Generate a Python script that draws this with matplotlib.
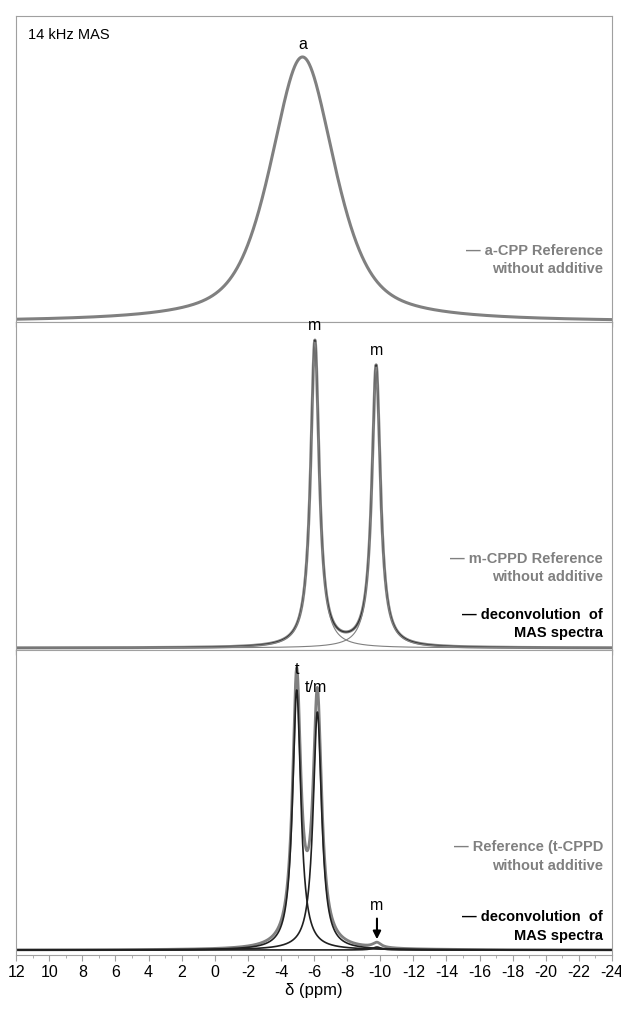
import numpy as np
import matplotlib.pyplot as plt

plt.rcParams['font.family'] = ['Liberation Sans', 'DejaVu Sans']
plt.rcParams['axes.unicode_minus'] = False

# peak parameters: centre (ppm), height, fwhm (ppm)
a_pos, a_h, a_w = [-5.3], [265], [4.6]
m_pos, m_h, m_w = [-6.05, -9.75], [306, 281], [0.62, 0.62]
t_ref_pos, t_ref_h, t_ref_w = [-4.95, -6.2, -9.8], [268, 248, 5], [0.6, 0.62, 0.6]
t_dec_pos, t_dec_h, t_dec_w = [-4.95, -6.2, -9.8], [260, 238, 3], [0.6, 0.62, 0.6]

x = np.linspace(12, -24, 3000)


def lor(c, h, w):
    return h / (1 + ((x - c) / (w / 2)) ** 2)


def voigt(c, h, w, eta=0.6):
    g = np.exp(-4 * np.log(2) * ((x - c) / w) ** 2)
    return h * (eta * lor(c, 1, w) + (1 - eta) * g)


fig, axes = plt.subplots(3, 1, figsize=(6.21, 10.30), dpi=100, sharex=True,
                         gridspec_kw={'height_ratios': [306, 328, 305], 'hspace': 0})
fig.subplots_adjust(left=0.026, right=0.9855, bottom=0.0728, top=0.9845)

gray = '#808080'
fs = 10.5

# panel a
ax = axes[0]
ax.plot(x, voigt(a_pos[0], a_h[0], a_w[0]), color=gray, lw=2.2)
ax.set_ylim(0, 306)
ax.text(0.02, 0.96, '14 kHz MAS', transform=ax.transAxes, fontsize=fs, va='top')
ax.text(a_pos[0], a_h[0] + 8, 'a', ha='center', fontsize=fs + 1)
ax.text(0.985, 0.15, '\u2014 a-CPP Reference\nwithout additive', transform=ax.transAxes,
        ha='right', va='bottom', color=gray, fontsize=fs, fontweight='bold', linespacing=1.4)

# panel m
ax = axes[1]
comps = [lor(c, h, w) for c, h, w in zip(m_pos, m_h, m_w)]
ax.plot(x, sum(comps), color=gray, lw=2.2)
ax.plot(x, sum(comps), color='#303030', lw=0.8)
for cp in comps:
    ax.plot(x, cp, color=gray, lw=0.8)
ax.set_ylim(-2, 326)
for c, h in zip(m_pos, m_h):
    ax.text(c, h + 12, 'm', ha='center', fontsize=fs + 1)
ax.text(0.985, 0.20, '\u2014 m-CPPD Reference\nwithout additive', transform=ax.transAxes,
        ha='right', va='bottom', color=gray, fontsize=fs, fontweight='bold', linespacing=1.4)
ax.text(0.985, 0.03, '\u2014 deconvolution  of\nMAS spectra', transform=ax.transAxes,
        ha='right', va='bottom', color='black', fontsize=fs, fontweight='bold', linespacing=1.4)

# panel t
ax = axes[2]
ref = sum(lor(c, h, w) for c, h, w in zip(t_ref_pos, t_ref_h, t_ref_w))
ax.plot(x, ref, color=gray, lw=2.0)
for c, h, w in zip(t_dec_pos, t_dec_h, t_dec_w):
    ax.plot(x, lor(c, h, w), color='#202020', lw=1.2)
ax.set_ylim(-5, 300)
ax.text(t_ref_pos[0], t_ref_h[0] + 8, 't', ha='center', fontsize=fs + 1)
ax.text(t_ref_pos[1] + 0.1, t_ref_h[1] + 10, 't/m', ha='center', fontsize=fs + 1)
ax.annotate('m', xy=(-9.8, 8), xytext=(-9.8, 40), ha='center', fontsize=fs + 1,
            arrowprops=dict(arrowstyle='-|>', color='black', lw=1.5))
ax.text(0.985, 0.27, '\u2014 Reference (t-CPPD\nwithout additive', transform=ax.transAxes,
        ha='right', va='bottom', color=gray, fontsize=fs, fontweight='bold', linespacing=1.4)
ax.text(0.985, 0.04, '\u2014 deconvolution  of\nMAS spectra', transform=ax.transAxes,
        ha='right', va='bottom', color='black', fontsize=fs, fontweight='bold', linespacing=1.4)

for ax in axes:
    ax.set_yticks([])
    for s in ax.spines.values():
        s.set_color('#a0a0a0')
axes[2].set_xlim(12, -24)
axes[2].set_xticks(np.arange(12, -25, -2))
axes[2].set_xticks(np.arange(12, -25, -1), minor=True)
axes[2].tick_params(axis='x', labelsize=11.5, length=4, color='#a0a0a0')
axes[2].tick_params(axis='x', which='minor', length=2, color='#a0a0a0')
axes[2].set_xlabel('\u03b4 (ppm)', fontsize=12, labelpad=2)

fig.savefig('out.png')
